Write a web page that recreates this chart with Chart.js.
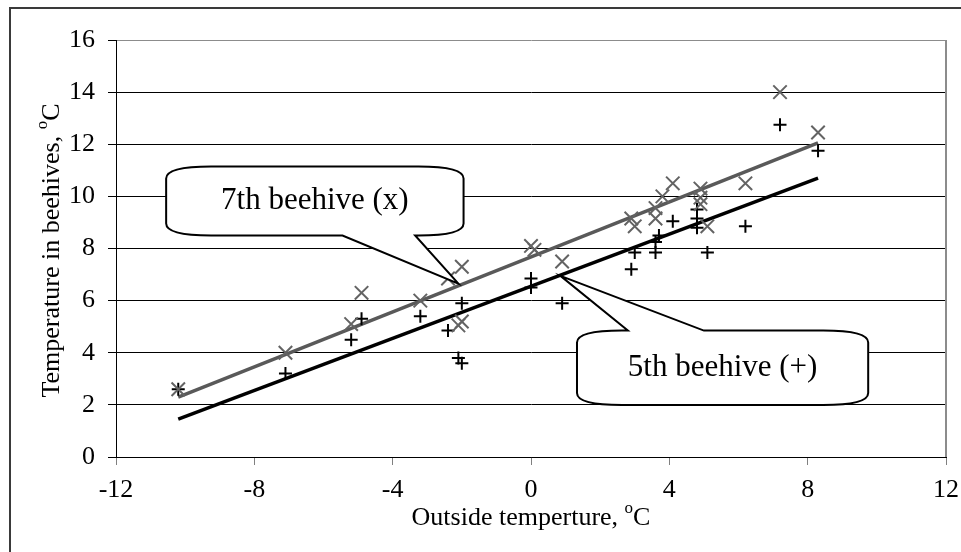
<!DOCTYPE html>
<html>
<head>
<meta charset="utf-8">
<script src="https://cdn.jsdelivr.net/npm/chart.js@4.4.1/dist/chart.umd.min.js"></script>
<style>
  html, body { margin: 0; padding: 0; background: #fff; }
  #wrap { position: relative; width: 961px; height: 552px; }
</style>
</head>
<body>
<div id="wrap"><canvas id="myChart"></canvas></div>
<script>
// outside temperature vs hive temperature
const outside7 = [-10.2, -7.1, -5.2, -4.9, -3.2, -2.4, -2.0, -2.0, -2.1, 0.0, 0.1, 0.9, 2.9, 3.0, 3.6, 3.6, 3.8, 4.1, 4.9, 4.9, 4.9, 5.1, 6.2, 7.2, 8.3];
const hive7    = [2.6, 4.0, 5.1, 6.3, 6.0, 6.85, 7.3, 5.2, 5.05, 8.1, 7.95, 7.5, 9.15, 8.85, 9.55, 9.15, 10.0, 10.5, 10.3, 9.95, 9.7, 8.85, 10.5, 14.0, 12.45];
const outside5 = [-10.2, -7.1, -5.2, -4.9, -3.2, -2.4, -2.1, -2.0, -2.0, 0.0, 0.0, 0.9, 2.9, 3.0, 3.6, 3.6, 3.7, 4.1, 4.8, 4.8, 4.8, 5.1, 6.2, 7.2, 8.3];
const hive5    = [2.6, 3.2, 4.5, 5.3, 5.4, 4.85, 3.8, 5.9, 3.6, 6.85, 6.5, 5.9, 7.2, 7.85, 8.25, 7.85, 8.5, 9.05, 9.5, 9.15, 8.8, 7.85, 8.85, 12.75, 11.75];

// trend line end points
const trendX = [-10.2, 8.3];
const trend7 = [2.3, 12.05];
const trend5 = [1.45, 10.7];

const xTicks = [-12, -8, -4, 0, 4, 8, 12];
const yTicks = [0, 2, 4, 6, 8, 10, 12, 14, 16];

// callouts, in data units
const callout7 = { text: '7th beehive (x)', box: [-10.55, -1.95, 11.15, 8.5], base: [-5.45, -3.35], tip: [-2.1, 6.65], side: 'bottom' };
const callout5 = { text: '5th beehive (+)', box: [1.33, 9.75, 4.85, 2.0], base: [2.8, 5.0], tip: [0.85, 6.95], side: 'top' };

const FONT = "'Liberation Serif', 'Times New Roman', serif";

function pts(xs, ys) {
  return xs.map((v, i) => ({ x: v, y: ys[i] }));
}

function drawCallout(chart, c) {
  const ctx = chart.ctx;
  const xs = chart.scales.x, ys = chart.scales.y;
  const l = xs.getPixelForValue(c.box[0]), r = xs.getPixelForValue(c.box[1]);
  const t = ys.getPixelForValue(c.box[2]), b = ys.getPixelForValue(c.box[3]);
  const b0 = xs.getPixelForValue(c.base[0]), b1 = xs.getPixelForValue(c.base[1]);
  const tx = xs.getPixelForValue(c.tip[0]), ty = ys.getPixelForValue(c.tip[1]);
  const rx = 45, ry = 12;
  ctx.save();
  ctx.beginPath();
  ctx.moveTo(l + rx, t);
  if (c.side === 'top') { ctx.lineTo(b0, t); ctx.lineTo(tx, ty); ctx.lineTo(b1, t); }
  ctx.lineTo(r - rx, t);
  ctx.quadraticCurveTo(r, t, r, t + ry);
  ctx.lineTo(r, b - ry);
  ctx.quadraticCurveTo(r, b, r - rx, b);
  if (c.side === 'bottom') { ctx.lineTo(b1, b); ctx.lineTo(tx, ty); ctx.lineTo(b0, b); }
  ctx.lineTo(l + rx, b);
  ctx.quadraticCurveTo(l, b, l, b - ry);
  ctx.lineTo(l, t + ry);
  ctx.quadraticCurveTo(l, t, l + rx, t);
  ctx.closePath();
  ctx.fillStyle = '#fff';
  ctx.fill();
  ctx.lineWidth = 2;
  ctx.strokeStyle = '#000';
  ctx.stroke();
  ctx.fillStyle = '#000';
  ctx.font = '31px ' + FONT;
  ctx.textAlign = 'center';
  ctx.textBaseline = 'middle';
  ctx.fillText(c.text, (l + r) / 2, (t + b) / 2);
  ctx.restore();
}

// title with a raised "o" before the C
function drawTitle(ctx, main, cx, cy) {
  ctx.font = '26px ' + FONT;
  const w1 = ctx.measureText(main).width;
  ctx.font = '17px ' + FONT;
  const w2 = ctx.measureText('o').width;
  ctx.font = '26px ' + FONT;
  const w3 = ctx.measureText('C').width;
  let x = cx - (w1 + w2 + w3) / 2;
  ctx.textAlign = 'left';
  ctx.textBaseline = 'alphabetic';
  ctx.fillStyle = '#000';
  ctx.fillText(main, x, cy + 9);
  x += w1;
  ctx.font = '17px ' + FONT;
  ctx.fillText('o', x, cy - 3);
  x += w2;
  ctx.font = '26px ' + FONT;
  ctx.fillText('C', x, cy + 9);
}

const decor = {
  id: 'decor',
  beforeDraw(chart) {
    const ctx = chart.ctx;
    ctx.save();
    ctx.fillStyle = '#fff';
    ctx.fillRect(0, 0, chart.width, chart.height);
    ctx.strokeStyle = '#3a3a3a';
    ctx.lineWidth = 2;
    ctx.strokeRect(10, 8, chart.width + 20, chart.height + 20);
    ctx.restore();
  },
  beforeDatasetsDraw(chart) {
    const { ctx, chartArea: a } = chart;
    ctx.save();
    ctx.strokeStyle = '#8c8c8c';
    ctx.lineWidth = 2;
    ctx.beginPath();
    ctx.moveTo(a.right, a.top);
    ctx.lineTo(a.right, a.bottom);
    ctx.stroke();
    ctx.restore();
  },
  afterDraw(chart) {
    const { ctx, chartArea: a } = chart;
    drawCallout(chart, callout7);
    drawCallout(chart, callout5);
    ctx.save();
    drawTitle(ctx, 'Outside temperture, ', (a.left + a.right) / 2, 516);
    ctx.translate(50, (a.top + a.bottom) / 2 + 2);
    ctx.rotate(-Math.PI / 2);
    drawTitle(ctx, 'Temperature in beehives, ', 0, 0);
    ctx.restore();
  }
};

document.addEventListener('DOMContentLoaded', function() {
  if (typeof Chart === 'undefined') {
    console.error('Chart.js is not loaded');
    return;
  }
  const ctx = document.getElementById('myChart');
  new Chart(ctx, {
    type: 'scatter',
    data: {
      datasets: [{
        label: '7th beehive',
        data: pts(outside7, hive7),
        pointStyle: 'crossRot',
        pointRadius: 9.5,
        pointBorderWidth: 2,
        borderColor: '#636363',
        backgroundColor: '#636363'
      }, {
        label: '5th beehive',
        data: pts(outside5, hive5),
        pointStyle: 'cross',
        pointRadius: 6.5,
        pointBorderWidth: 2,
        borderColor: '#000',
        backgroundColor: '#000'
      }, {
        label: 'trend 7',
        data: pts(trendX, trend7),
        showLine: true,
        pointRadius: 0,
        borderWidth: 3.5,
        borderColor: '#595959'
      }, {
        label: 'trend 5',
        data: pts(trendX, trend5),
        showLine: true,
        pointRadius: 0,
        borderWidth: 3.5,
        borderColor: '#000'
      }]
    },
    options: {
      responsive: true,
      maintainAspectRatio: false,
      animation: false,
      devicePixelRatio: 1,
      layout: { padding: { left: 0, top: 40, right: 15, bottom: 0 } },
      plugins: { legend: { display: false }, tooltip: { enabled: false } },
      scales: {
        x: {
          type: 'linear',
          min: -12,
          max: 12,
          afterFit(s) { s.height = 95; s.paddingLeft = 0; s.paddingRight = 0; },
          afterBuildTicks(s) { s.ticks = xTicks.map(v => ({ value: v })); },
          ticks: { color: '#000', padding: 10, font: { family: FONT, size: 26 } },
          grid: { drawOnChartArea: false, drawTicks: true, tickLength: 8, tickColor: '#808080' },
          border: { color: '#000', width: 1 }
        },
        y: {
          min: 0,
          max: 16,
          afterFit(s) { s.width = 116; s.paddingTop = 0; s.paddingBottom = 0; },
          afterBuildTicks(s) { s.ticks = yTicks.map(v => ({ value: v })); },
          ticks: { color: '#000', padding: 13, font: { family: FONT, size: 26 } },
          grid: {
            color: c => (c.tick && c.tick.value === 16 ? '#8c8c8c' : '#000'),
            lineWidth: 1,
            tickLength: 8,
            tickColor: '#000'
          },
          border: { color: '#000', width: 1 }
        }
      }
    },
    plugins: [decor]
  });
});
</script>
</body>
</html>
